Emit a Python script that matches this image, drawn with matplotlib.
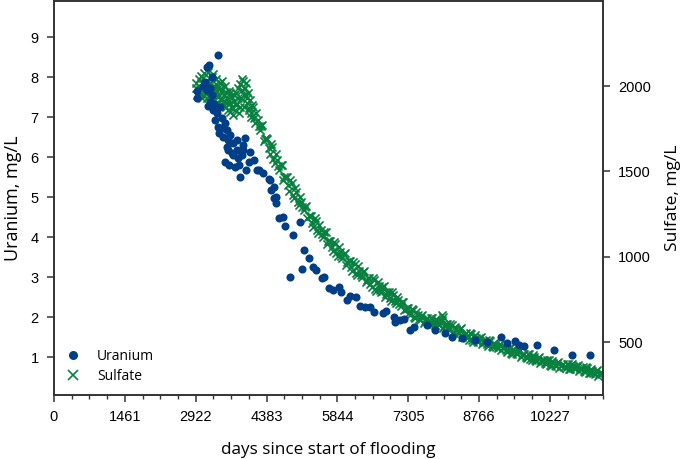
import matplotlib
matplotlib.use("Agg")
import matplotlib.pyplot as plt
from matplotlib.ticker import MultipleLocator, FixedLocator
from matplotlib.lines import Line2D

# Uranium (mg/L), x = days since start of flooding
uranium_days = [
    2946, 2946, 3118, 3153, 3207, 3256, 3380, 3221, 3289, 3324, 3359, 3392,
    3427, 3462, 3531, 3566, 3496, 3599, 3566, 3702, 3669, 3772, 3805, 3875,
    3908, 3944, 3531, 3619, 3737, 3840, 3964, 4012, 4047, 4218, 4321, 4425,
    4528, 4584, 3159, 3262, 3303, 3180, 3407, 3469, 3634, 3696, 3820, 3903,
    3778, 3593, 3221, 3076,
    4115, 4185, 4460, 4474, 4528, 4584, 4631, 4714, 4755, 4929, 5065, 5147,
    5250, 5114, 4858, 5341, 5410, 5527, 5575, 5678, 5746, 5870, 5926, 6043,
    6111, 6235, 6318, 6421, 6510, 6607, 6787, 6855, 7006, 7026, 7144, 7226,
    7336, 7418,
    7695, 8211, 9209, 9333, 9518, 9587, 9690, 9952, 10309, 10689, 11052,
    7867, 8073, 8424, 8693, 8940,
]
uranium = [
    7.65, 7.47, 7.88, 8.26, 8.29, 8.01, 8.54, 7.38, 7.18, 6.93, 7.09, 6.76,
    7.26, 6.97, 6.84, 6.68, 6.51, 6.43, 6.26, 6.34, 6.09, 6.18, 5.97, 6.05,
    6.30, 6.47, 5.88, 5.80, 5.76, 5.51, 5.68, 5.88, 6.13, 5.68, 5.59, 5.44,
    5.26, 5.01, 7.68, 7.55, 7.33, 7.28, 6.60, 6.73, 6.55, 6.05, 5.80, 6.18,
    6.43, 6.18, 7.73, 7.78,
    5.93, 5.68, 5.43, 5.18, 4.97, 4.86, 4.47, 4.51, 4.28, 4.05, 4.38, 3.68,
    3.47, 3.19, 3.01, 3.24, 3.18, 2.97, 3.01, 2.73, 2.68, 2.76, 2.62, 2.43,
    2.53, 2.51, 2.28, 2.24, 2.26, 2.13, 2.11, 2.15, 2.01, 1.88, 1.93, 1.94,
    1.68, 1.76,
    1.80, 1.51, 1.49, 1.36, 1.41, 1.30, 1.28, 1.29, 1.18, 1.05, 1.04,
    1.68, 1.60, 1.48, 1.43, 1.38,
]

# Sulfate (mg/L), first pass of readings
sulfate_days = [
    2930, 2935, 2940, 2990, 3010, 3040, 3060, 3080, 3100, 3120, 3140, 3160,
    3180, 3200, 3220, 3240, 3260, 3280, 3300, 3320, 3340, 3360, 3380, 3400,
    3420, 3440, 3460, 3480, 3500, 3520, 3540, 3560, 3580, 3600, 3620, 3640,
    3660, 3680, 3700, 3720, 3740, 3760, 3780, 3800, 3820, 3840, 3860, 3880,
    3900, 3920, 3940, 3960, 3980, 4000, 4020, 4040, 4060, 4080,
    4100, 4150, 4200, 4250, 4300, 4350, 4400, 4450, 4500, 4550, 4600, 4650,
    4700, 4750, 4800, 4850, 4900, 4950,
    5000, 5050, 5100, 5150, 5200, 5250, 5300, 5350, 5400, 5450, 5500, 5550,
    5600, 5650, 5700, 5750, 5800, 5850, 5900, 5950, 6000, 6050, 6100, 6150,
    6200, 6250, 6300, 6350, 6400, 6450, 6500, 6550, 6600, 6650, 6700, 6750,
    6800, 6850, 6900, 6950,
    7000, 7050, 7100, 7150, 7200, 7250, 7300, 7350, 7400, 7450, 7500, 7550,
    7600, 7650, 7700, 7750, 7800, 7850, 7900, 7950, 8000, 8050, 8100, 8150,
    8200, 8250, 8300, 8350, 8400, 8450, 8500, 8550, 8600, 8650, 8700, 8750,
    8800, 8850, 8900, 8950,
    9000, 9050, 9100, 9150, 9200, 9250, 9300, 9350, 9400, 9450, 9500, 9550,
    9600, 9650, 9700, 9750, 9800, 9850, 9900, 9950, 10000, 10050, 10100,
    10150, 10200, 10250, 10300, 10350, 10400, 10450, 10500, 10550, 10600,
    10650, 10700, 10750, 10800, 10850, 10900, 10950, 11000, 11050, 11100,
    11150, 11200, 11250, 11300,
    8000, 8020,
]
sulfate = [
    2020, 1990, 1950, 2040, 1985, 2060, 1930, 2010, 2075, 1960, 2030, 1990,
    2085, 1940, 2020, 1975, 2050, 1925, 2000, 1960, 2040, 1905, 1990, 1950,
    2020, 1920, 1975, 1890, 1950, 2000, 1880, 1930, 1860, 1970, 1900, 1845,
    1940, 1880, 1830, 1910, 1860, 1960, 1895, 1990, 1840, 2010, 1930, 1975,
    2030, 1880, 1990, 1940, 1900, 1960, 1870, 1920, 1840, 1890,
    1880, 1785, 1800, 1740, 1770, 1690, 1690, 1600, 1640, 1547, 1565, 1508,
    1540, 1465, 1470, 1385, 1430, 1343,
    1380, 1304, 1318, 1273, 1295, 1237, 1240, 1175, 1210, 1140, 1158, 1117,
    1145, 1090, 1095, 1035, 1075, 1007, 1028, 990, 1020, 968, 977, 918,
    960, 894, 918, 883, 915, 866, 877, 821, 865, 802, 828, 795,
    830, 782, 795, 740,
    778, 729, 744, 714, 737, 696, 702, 660, 688, 640, 656, 630,
    657, 625, 640, 605, 640, 598, 621, 600, 632, 596, 607, 568,
    598, 554, 574, 551, 580, 543, 552, 514, 546, 503, 524, 502,
    532, 499, 512, 475,
    504, 470, 485, 467, 488, 463, 471, 443, 466, 432, 447, 428,
    449, 424, 433, 405, 428, 394, 410, 391, 412, 388, 397,
    370, 394, 361, 377, 360, 382, 360, 371, 346, 372,
    340, 358, 341, 364, 341, 352, 326, 350, 317, 333,
    315, 336, 312, 321,
    658, 645,
]

# Sulfate, second pass (readings between the first ones)
sulfate_days2 = [
    3030, 3070, 3110, 3150, 3190, 3230, 3270, 3310, 3350, 3390, 3430, 3470,
    3510, 3550, 3590, 3630, 3670, 3710, 3750, 3790, 3830, 3870, 3910, 3950,
    3990, 4030, 4070,
    4125, 4175, 4225, 4275, 4325, 4375, 4425, 4475, 4525, 4575, 4625, 4675,
    4725, 4775, 4825, 4875, 4925, 4975,
    5025, 5075, 5125, 5175, 5225, 5275, 5325, 5375, 5425, 5475, 5525, 5575,
    5625, 5675, 5725, 5775, 5825, 5875, 5925, 5975, 6025, 6075, 6125, 6175,
    6225, 6275, 6325, 6375, 6425, 6475, 6525, 6575, 6625, 6675, 6725, 6775,
    6825, 6875, 6925, 6975,
    7025, 7075, 7125, 7175, 7225, 7275, 7325, 7375, 7425, 7475, 7525, 7575,
    7625, 7675, 7725, 7775, 7825, 7875, 7925, 7975, 8025, 8075, 8125, 8175,
    8225, 8275, 8325, 8375, 8425, 8475, 8525, 8575, 8625, 8675, 8725, 8775,
    8825, 8875, 8925, 8975,
    9025, 9075, 9125, 9175, 9225, 9275, 9325, 9375, 9425, 9475,
    9525, 9575, 9625, 9675, 9725, 9775, 9825, 9875, 9925, 9975,
    10025, 10075, 10125, 10175, 10225, 10275, 10325, 10375, 10425, 10475,
    10525, 10575, 10625, 10675, 10725, 10775, 10825, 10875, 10925, 10975,
    11025, 11075, 11125, 11175, 11225, 11275,
]
sulfate2 = [
    1955, 2045, 1995, 1930, 2015, 1950, 2070, 1980, 2010, 1935, 1985, 2030,
    1915, 1965, 1905, 1960, 1870, 1950, 1890, 1930, 1880, 2040, 1950, 2020,
    1930, 1860, 1820,
    1810, 1840, 1763, 1767, 1677, 1693, 1635, 1663, 1571, 1603, 1529, 1536,
    1450, 1470, 1418, 1450, 1364, 1401,
    1322, 1349, 1289, 1294, 1225, 1241, 1199, 1225, 1154, 1187, 1131, 1142,
    1076, 1095, 1056, 1088, 1020, 1056, 1002, 1016, 953, 975, 939, 972,
    906, 944, 894, 910, 850, 874, 840, 876, 813, 853, 805, 823,
    765, 791, 759, 795,
    738, 764, 724, 734, 686, 702, 673, 695, 649, 675, 638, 652,
    611, 636, 614, 644, 604, 636, 606, 625, 584, 604, 580, 604,
    561, 591, 558, 574, 532, 550, 525, 551, 510, 540, 508, 526,
    486, 508, 486, 512,
    475, 497, 472, 484, 454, 469, 451, 468, 437, 459,
    434, 445, 414, 431, 413, 430, 399, 422, 396, 408,
    378, 395, 377, 396, 365, 389, 364, 378, 349, 368,
    352, 373, 343, 369, 346, 359, 330, 349, 333, 352,
    321, 345, 320, 332, 302, 319,
]

x_ticks = [0, 1461, 2922, 4383, 5844, 7305, 8766, 10227]

blue = "#003f87"
green = "#08803f"
spine_color = "#333333"

plt.rcParams["font.family"] = ["Liberation Sans", "DejaVu Sans"]

fig = plt.figure(figsize=(6.85, 4.59), dpi=100)
ax = fig.add_axes([0.0788, 0.1394, 0.8015, 0.8584])
ax2 = ax.twinx()

ax2.scatter(sulfate_days + sulfate_days2, sulfate + sulfate2, marker="x",
            s=34, color=green, linewidths=1.2, zorder=2)
ax.scatter(uranium_days, uranium, marker="o", s=34, color=blue,
           linewidths=0, zorder=3)

# uranium dots drawn over the sulfate crosses
ax.set_zorder(ax2.get_zorder() + 1)
ax.patch.set_visible(False)

ax.set_xlim(0, 31 * 365.25)
ax.set_ylim(0.05, 9.9)
ax2.set_ylim(190, 2498)

ax.xaxis.set_major_locator(FixedLocator(x_ticks))
ax.xaxis.set_minor_locator(MultipleLocator(365.25))
ax.set_xticklabels([str(t) for t in x_ticks])
ax.set_yticks(range(1, 10))
ax2.set_yticks([500, 1000, 1500, 2000])

for a in (ax, ax2):
    for sp in a.spines.values():
        sp.set_color(spine_color)
        sp.set_linewidth(1.2)
    a.tick_params(which="major", length=5, width=1.1, color=spine_color,
                  labelsize=10.5, pad=6)
    a.tick_params(which="minor", length=3, width=1.0, color=spine_color)

ax.set_xlabel("days since start of flooding",
              fontdict={"family": "Open Sans", "size": 12.3}, labelpad=13)
ax.set_ylabel("Uranium, mg/L",
              fontdict={"family": "Open Sans", "size": 13}, labelpad=6)
ax2.set_ylabel("Sulfate, mg/L",
               fontdict={"family": "Open Sans", "size": 12.5}, labelpad=10)

handles = [
    Line2D([], [], linestyle="none", marker="o", markersize=6.5,
           markerfacecolor=blue, markeredgewidth=0),
    Line2D([], [], linestyle="none", marker="x", markersize=6.5,
           color=green, markeredgewidth=1.2),
]
ax.legend(handles, ["Uranium", "Sulfate"], loc="lower left",
          bbox_to_anchor=(0.0, -0.004), frameon=False, handlelength=1.0,
          handletextpad=1.2, labelspacing=0.35,
          prop={"family": "Open Sans", "size": 10})

fig.savefig("out.png", dpi=100)
